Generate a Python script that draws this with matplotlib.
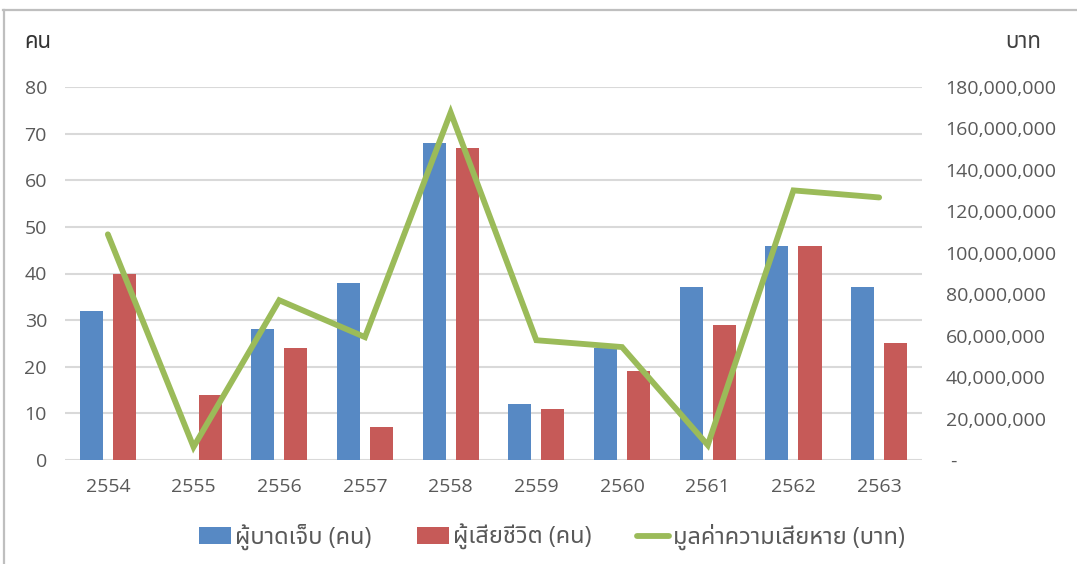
import matplotlib
matplotlib.use("Agg")
import matplotlib.pyplot as plt
from matplotlib import font_manager
from matplotlib.lines import Line2D
from matplotlib.ticker import FuncFormatter

years = ["2554", "2555", "2556", "2557", "2558", "2559", "2560", "2561", "2562", "2563"]
injured = [32, 0, 28, 38, 68, 12, 24, 37, 46, 37]
deaths = [40, 14, 24, 7, 67, 11, 19, 29, 46, 25]
damage = [108.9e6, 6.3e6, 77.1e6, 59.3e6, 167.7e6, 57.8e6, 54.5e6, 7.2e6, 130.1e6, 126.7e6]

# pick a Thai-capable font that is installed
names = {f.name for f in font_manager.fontManager.ttflist}
thai_font = "DejaVu Sans"
for cand in ["Noto Sans Thai", "Noto Sans Thai UI", "Sarabun", "IBM Plex Sans Thai", "Anuphan", "Bai Jamjuree"]:
    if cand in names:
        thai_font = cand
        break
plt.rcParams["font.family"] = ["Open Sans", thai_font]

blue = "#5789C4"
red = "#C65A58"
green = "#9BBB59"
grid = "#D9D9D9"
txt = "#595959"

fig = plt.figure(figsize=(10.77, 5.64), dpi=100)
ax = fig.add_axes([65 / 1077, 1 - 460 / 564, 857 / 1077, 373 / 564])
ax2 = ax.twinx()

x = list(range(len(years)))
w = 0.27
off = 0.193
ax.bar([i - off for i in x], injured, w, color=blue, label="ผู้บาดเจ็บ (คน)")
ax.bar([i + off for i in x], deaths, w, color=red, label="ผู้เสียชีวิต (คน)")
ax2.plot(x, damage, color=green, lw=4.2, solid_capstyle="round", solid_joinstyle="miter",
         label="มูลค่าความเสียหาย (บาท)")

ax.set_xlim(-0.5, len(years) - 0.5)
ax.set_ylim(0, 80)
ax.set_yticks(range(0, 81, 10))
ax2.set_ylim(0, 180e6)
ax2.set_yticks(range(0, 180000001, 20000000))
ax2.yaxis.set_major_formatter(FuncFormatter(lambda v, p: " -" if v == 0 else "{:,.0f}".format(v)))
ax.set_xticks(x)
ax.set_xticklabels(years)

ax.set_axisbelow(True)
ax.grid(axis="y", color=grid, lw=1.5)
for a in (ax, ax2):
    for s in a.spines.values():
        s.set_visible(False)
    a.tick_params(length=0, colors=txt, labelsize=14)
ax.tick_params(axis="y", pad=13)
ax.tick_params(axis="x", pad=13)
ax2.tick_params(axis="y", pad=17)

fig.text(24 / 1077, 1 - 43 / 564, "คน", fontsize=16, color="#333333", va="center", ha="left",
         fontweight="bold")
fig.text(1041 / 1077, 1 - 43 / 564, "บาท", fontsize=16, color="#404040", va="center", ha="right")

h1, l1 = ax.get_legend_handles_labels()
h2, l2 = ax2.get_legend_handles_labels()
fig.legend(h1 + h2, l1 + l2, loc="center", bbox_to_anchor=(552 / 1077, 1 - 537 / 564), ncol=3,
           frameon=False, fontsize=17, labelcolor=txt, handlelength=1.35, handletextpad=0.2,
           columnspacing=1.9)

# outer chart border (top and left visible)
fig.add_artist(Line2D([3 / 1077, 1], [1 - 10 / 564, 1 - 10 / 564], color="#BFBFBF", lw=1.6))
fig.add_artist(Line2D([4 / 1077, 4 / 1077], [0, 1 - 10 / 564], color="#BFBFBF", lw=1.6))

fig.savefig("out.png", dpi=100)
